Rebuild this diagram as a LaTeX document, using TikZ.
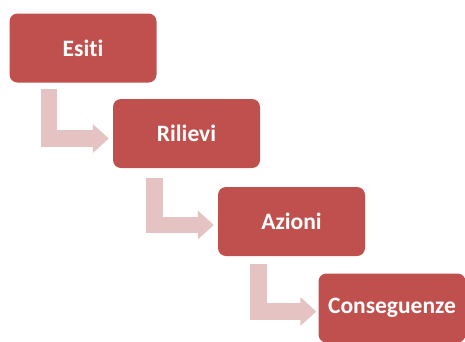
\documentclass[tikz,border=0pt]{standalone}
\usepackage{fontspec}
\setmainfont{Carlito}[Ligatures=NoCommon]
\usetikzlibrary{calc,arrows.meta}
\definecolor{boxred}{HTML}{C0504D}
\definecolor{arrowpink}{HTML}{E5C3C3}
\begin{document}
\begin{tikzpicture}[x=1pt,y=-1pt,
  stepbox/.style={fill=boxred, draw=none, rounded corners=8pt, minimum width=147pt, minimum height=69pt,
    inner sep=0pt, text=white, font=\fontsize{23.5}{28}\selectfont\bfseries},
  bentarrow/.style={draw=arrowpink, line width=16.5pt, line cap=butt, line join=miter,
    -{Triangle[width=28pt,length=16pt]}}]
\useasboundingbox (0,0) rectangle (465,341);
\clip (0,0) rectangle (465,341);
\node[stepbox] (e) at (83,48) {Esiti};
\node[stepbox] (r) at (186.5,133.5) {Rilievi};
\node[stepbox] (a) at (291.5,221.5) {Azioni};
\node[stepbox] (c) at (392,308) {Conseguenze};
\draw[bentarrow] ($(e.south west)+(39.5,6)$) |- ($(r.west)+(-4,5)$);
\draw[bentarrow] ($(r.south west)+(41.5,10)$) |- ($(a.west)+(-4,3.5)$);
\draw[bentarrow] ($(a.south west)+(40.5,8)$) |- ($(c.west)+(-2,3.5)$);
\end{tikzpicture}
\end{document}
